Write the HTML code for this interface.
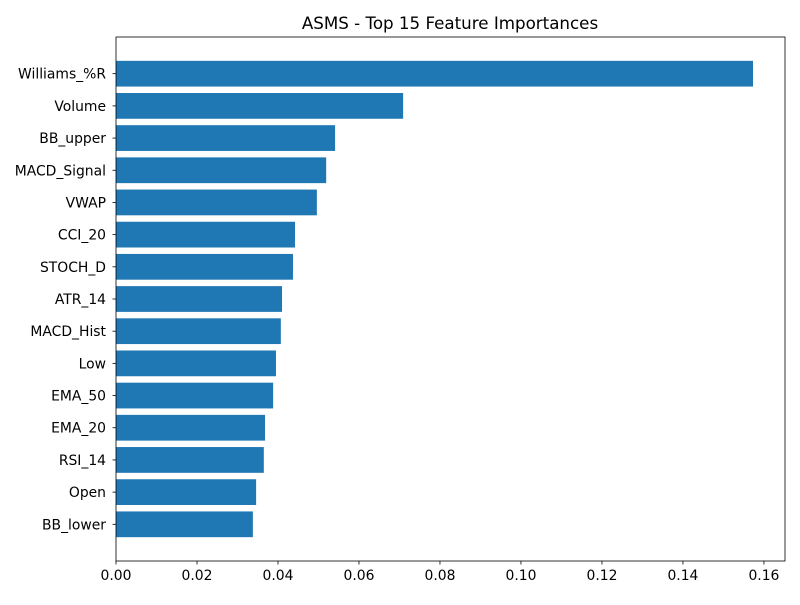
<!DOCTYPE html>
<html><head><meta charset="utf-8"><style>
body{margin:0;background:#fff;font-family:"Liberation Sans","DejaVu Sans",sans-serif;}
svg text{font-family:"DejaVu Sans","Liberation Sans",sans-serif;}
</style></head><body>
<svg id="chart" width="800" height="600">
<rect width="800" height="600" fill="#fff"/>
<text x="450" y="29" text-anchor="middle" font-size="16.7">ASMS - Top 15 Feature Importances</text>
<g id="bars"></g>
<g id="axes"></g>
</svg>
<script>
const categories=["Williams_%R","Volume","BB_upper","MACD_Signal","VWAP","CCI_20","STOCH_D","ATR_14","MACD_Hist","Low","EMA_50","EMA_20","RSI_14","Open","BB_lower"];
const values=[0.1573,0.0709,0.0541,0.0519,0.0496,0.0442,0.0437,0.0410,0.0407,0.0395,0.0388,0.0368,0.0365,0.0346,0.0338];
const xTicks=[0,0.02,0.04,0.06,0.08,0.10,0.12,0.14,0.16];
const xTickLabels=["0.00","0.02","0.04","0.06","0.08","0.10","0.12","0.14","0.16"];
const L=116,R=785,T=37,B=561,xMax=0.1652;
const NS="http://www.w3.org/2000/svg";
const x=v=>L+v/xMax*(R-L);
const n=categories.length,span=(n-0.2)*1.1,step=(B-T)/span;
const y=i=>T+step*(0.4+(n-0.2)*0.05+i);
const bars=document.getElementById('bars'),axes=document.getElementById('axes');
function mk(tag,attrs,parent){const e=document.createElementNS(NS,tag);for(const k in attrs)e.setAttribute(k,attrs[k]);parent.appendChild(e);return e;}
categories.forEach((c,i)=>{
 const r=mk('rect',{x:x(0),y:y(i)-step*0.4,width:x(values[i])-x(0),height:step*0.8,fill:'#1f77b4'},bars);
 
 
 mk('line',{x1:L-3.5,x2:L,y1:y(i),y2:y(i),stroke:'#000','stroke-width':0.8},axes);
 const t=mk('text',{x:L-10,y:y(i)+5,'text-anchor':'end','font-size':13.9},axes);
 t.textContent=c;
 
 
});
xTicks.forEach((v,i)=>{
 mk('line',{x1:x(v),x2:x(v),y1:B,y2:B+3.5,stroke:'#000','stroke-width':0.8},axes);
 const t=mk('text',{x:x(v),y:B+19,'text-anchor':'middle','font-size':13.9},axes);
 t.textContent=xTickLabels[i];
 
 
});
const f=mk('rect',{x:L,y:T,width:R-L,height:B-T,fill:'none',stroke:'#000','stroke-width':0.8},axes);


</script>
</body></html>
